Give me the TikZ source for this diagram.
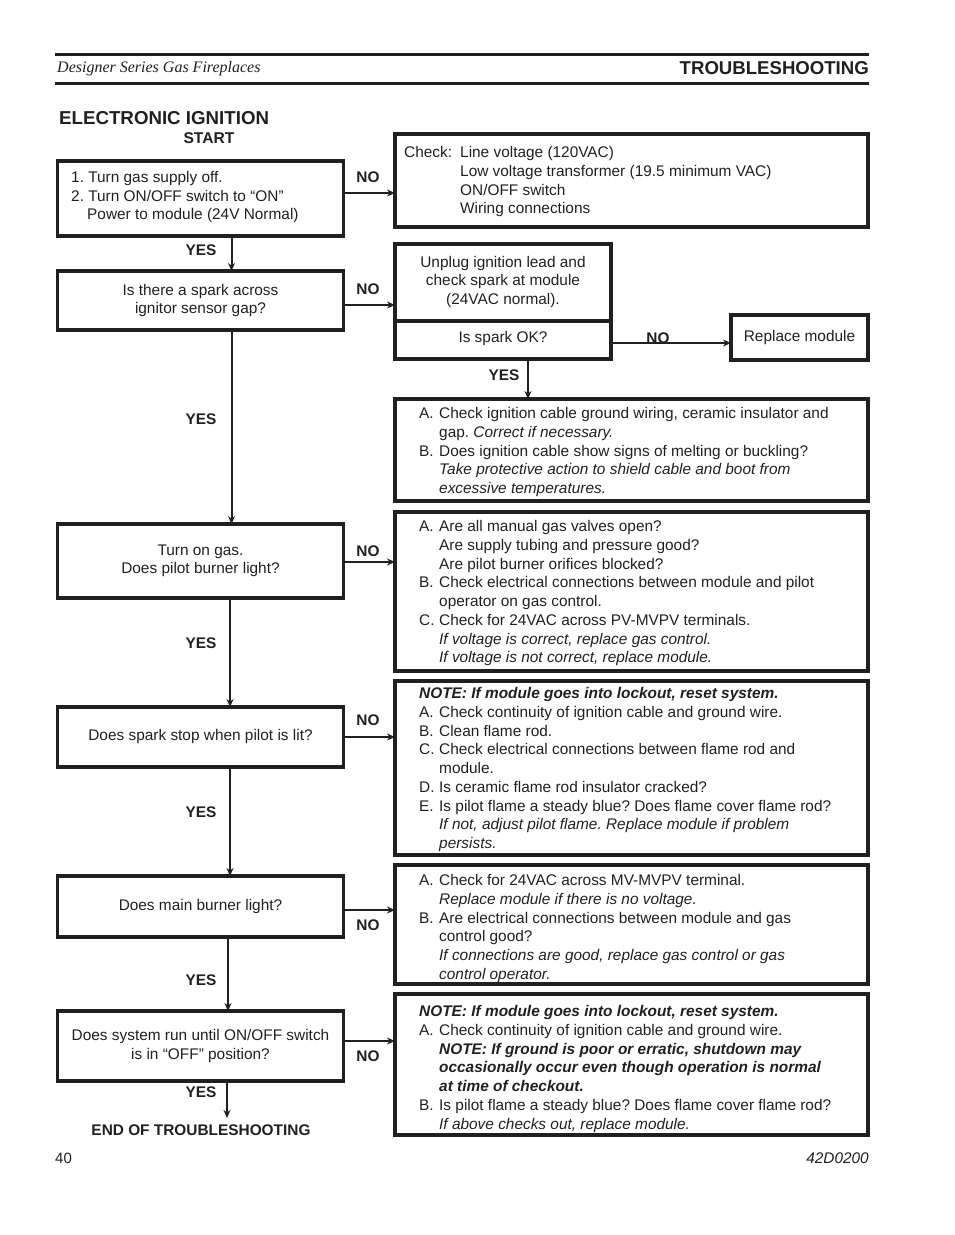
\documentclass[tikz,border=0pt]{standalone}
\usepackage{fontspec}
\setmainfont{Liberation Sans}
\newfontfamily\serifface{Liberation Serif}
\usetikzlibrary{arrows.meta,calc}
\definecolor{ink}{HTML}{231F20}
\frenchspacing
\newcommand{\tf}{\fontsize{15.4}{18.7}\selectfont}
\newcommand{\tg}{\fontsize{15.4}{18.2}\selectfont}
\newcommand{\itm}[1]{\makebox[20pt][l]{#1}}
\newcommand{\ind}{\hspace*{20pt}}
\begin{document}
\begin{tikzpicture}[x=1pt,y=-1pt,
  box/.style={draw=ink,line width=3.2pt,inner sep=0pt,outer sep=0pt,anchor=north west},
  arr/.style={draw=ink,line width=2pt,-{Stealth[length=8pt,width=7pt]}},
  txt/.style={text=ink,font=\tf,inner sep=0pt},
  ltxt/.style={txt,align=left,anchor=north west},
  ctxt/.style={txt,align=center},
  lab/.style={text=ink,font=\bfseries\fontsize{15.4}{18}\selectfont,inner sep=0pt}]
\useasboundingbox (0,0) rectangle (954,1235);
% header
\draw[ink,line width=3pt] (55,54.5) -- (869,54.5);
\draw[ink,line width=3pt] (55,83) -- (869,83);
\node[text=ink,font=\serifface\itshape\fontsize{16}{18}\selectfont,anchor=west,inner sep=0pt] (hdl) at (57,69) {Designer Series Gas Fireplaces};
\node[text=ink,font=\bfseries\fontsize{18.6}{21}\selectfont,anchor=east,inner sep=0pt] (hdr) at (869,68) {TROUBLESHOOTING};
\node[text=ink,font=\bfseries\fontsize{18.7}{21}\selectfont,anchor=west,inner sep=0pt] (title) at (59,118) {ELECTRONIC IGNITION};
\node[lab,font=\bfseries\fontsize{15.6}{18}\selectfont] (start) at (209,138) {START};
% left boxes
\node[box,minimum width=286pt,minimum height=75pt] (b1) at (57.5,161) {};
\node[box,minimum width=286pt,minimum height=59pt] (b2) at (57.5,271) {};
\node[box,minimum width=286pt,minimum height=74pt] (b3) at (57.5,524) {};
\node[box,minimum width=286pt,minimum height=60pt] (b4) at (57.5,707) {};
\node[box,minimum width=286pt,minimum height=61pt] (b5) at (57.5,876) {};
\node[box,minimum width=286pt,minimum height=70pt] (b6) at (57.5,1011) {};
\node[ltxt,font=\tg] (t1) at (71,171.5) {1. Turn gas supply off.\\2. Turn ON/OFF switch to “ON”\\\hspace*{16pt}Power to module (24V Normal)};
\node[ctxt,font=\tg] (t2) at (b2.center) {Is there a spark across\\ignitor sensor gap?};
\node[ctxt,font=\tg] (t3) at (b3.center) {Turn on gas.\\Does pilot burner light?};
\node[ctxt] (t4) at (b4.center) {Does spark stop when pilot is lit?};
\node[ctxt] (t5) at (b5.center) {Does main burner light?};
\node[ctxt,font=\tg] (t6) at (b6.center) {Does system run until ON/OFF switch\\is in “OFF” position?};
% right boxes
\node[box,minimum width=473pt,minimum height=93pt] (r1) at (395,134) {};
\node[box,minimum width=216pt,minimum height=115pt] (r2) at (395,244) {};
\node[box,minimum width=137pt,minimum height=45pt] (rm) at (731,315) {};
\node[box,minimum width=473pt,minimum height=102pt] (r3) at (395,399) {};
\node[box,minimum width=473pt,minimum height=159pt] (r4) at (395,512) {};
\node[box,minimum width=473pt,minimum height=174pt] (r5) at (395,681) {};
\node[box,minimum width=473pt,minimum height=119pt] (r6) at (395,865) {};
\node[box,minimum width=473pt,minimum height=141pt] (r7) at (395,994) {};
\draw[ink,line width=3.2pt] (r2.west |- {(0,321)}) -- (r2.east |- {(0,321)});
\node[ltxt] (s1) at (404,146.5) {\makebox[56pt][l]{Check:}Line voltage (120VAC)\\\hspace*{56pt}Low voltage transformer (19.5 minimum VAC)\\\hspace*{56pt}ON/OFF switch\\\hspace*{56pt}Wiring connections};
\node[ctxt,font=\tg] (s2) at (503,282) {Unplug ignition lead and\\check spark at module\\(24VAC normal).};
\node[ctxt] (s2b) at (503,339) {Is spark OK?};
\node[ctxt] (sm) at (rm.center) {Replace module};
\node[ltxt] (s3) at (419,407.5) {\itm{A.}Check ignition cable ground wiring, ceramic insulator and\\\ind gap. \textit{Correct if necessary.}\\\itm{B.}Does ignition cable show signs of melting or buckling?\\\ind\textit{Take protective action to shield cable and boot from}\\\ind\textit{excessive temperatures.}};
\node[ltxt] (s4) at (419,520.5) {\itm{A.}Are all manual gas valves open?\\\ind Are supply tubing and pressure good?\\\ind Are pilot burner orifices blocked?\\\itm{B.}Check electrical connections between module and pilot\\\ind operator on gas control.\\\itm{C.}Check for 24VAC across PV-MVPV terminals.\\\ind\textit{If voltage is correct, replace gas control.}\\\ind\textit{If voltage is not correct, replace module.}};
\node[ltxt] (s5) at (419,687.5) {\textbf{\textit{NOTE: If module goes into lockout, reset system.}}\\\itm{A.}Check continuity of ignition cable and ground wire.\\\itm{B.}Clean flame rod.\\\itm{C.}Check electrical connections between flame rod and\\\ind module.\\\itm{D.}Is ceramic flame rod insulator cracked?\\\itm{E.}Is pilot flame a steady blue? Does flame cover flame rod?\\\ind\textit{If not, adjust pilot flame. Replace module if problem}\\\ind\textit{persists.}};
\node[ltxt] (s6) at (419,874.5) {\itm{A.}Check for 24VAC across MV-MVPV terminal.\\\ind\textit{Replace module if there is no voltage.}\\\itm{B.}Are electrical connections between module and gas\\\ind control good?\\\ind\textit{If connections are good, replace gas control or gas}\\\ind\textit{control operator.}};
\node[ltxt] (s7) at (419,1005.5) {\textbf{\textit{NOTE: If module goes into lockout, reset system.}}\\\itm{A.}Check continuity of ignition cable and ground wire.\\\ind\textbf{\textit{NOTE: If ground is poor or erratic, shutdown may}}\\\ind\textbf{\textit{occasionally occur even though operation is normal}}\\\ind\textbf{\textit{at time of checkout.}}\\\itm{B.}Is pilot flame a steady blue? Does flame cover flame rod?\\\ind\textit{If above checks out, replace module.}};
% vertical connectors
\draw[arr] (b1.south -| {(231.5,0)}) -- (b2.north -| {(231.5,0)});
\draw[arr] (b2.south -| {(231.5,0)}) -- (b3.north -| {(231.5,0)});
\draw[arr] (b3.south -| {(230,0)}) -- (b4.north -| {(230,0)});
\draw[arr] (b4.south -| {(230,0)}) -- (b5.north -| {(230,0)});
\draw[arr] (b5.south -| {(228,0)}) -- (b6.north -| {(228,0)});
\coordinate (endtip) at (227,1118);
\draw[arr] (b6.south -| endtip) -- (endtip);
\draw[arr] (r2.south -| {(528,0)}) -- (r3.north -| {(528,0)});
% horizontal connectors
\draw[arr] (b1.east |- {(0,193)}) -- (r1.west |- {(0,193)});
\draw[arr] (b2.east |- {(0,305)}) -- (r2.west |- {(0,305)});
\draw[arr] (b3.east |- {(0,562)}) -- (r4.west |- {(0,562)});
\draw[arr] (b4.east |- {(0,737)}) -- (r5.west |- {(0,737)});
\draw[arr] (b5.east |- {(0,910)}) -- (r6.west |- {(0,910)});
\draw[arr] (b6.east |- {(0,1041)}) -- (r7.west |- {(0,1041)});
\draw[arr] (r2.east |- {(0,343)}) -- (rm.west |- {(0,343)});
% labels
\node[lab] (n1) at (368,177) {NO};
\node[lab] (n2) at (368,289) {NO};
\node[lab] (n3) at (368,551) {NO};
\node[lab] (n4) at (368,720) {NO};
\node[lab] (n5) at (368,925) {NO};
\node[lab] (n6) at (368,1056) {NO};
\node[lab] (n7) at (658,338) {NO};
\node[lab] (y1) at (201,250) {YES};
\node[lab] (y2) at (201,419) {YES};
\node[lab] (y3) at (201,643) {YES};
\node[lab] (y4) at (201,812) {YES};
\node[lab] (y5) at (201,980) {YES};
\node[lab] (y6) at (201,1092) {YES};
\node[lab] (y7) at (504,375) {YES};
\node[lab] (endt) at (201,1130) {END OF TROUBLESHOOTING};
% footer
\node[text=ink,font=\fontsize{15}{17}\selectfont,anchor=west,inner sep=0pt] (pg) at (55,1158) {40};
\node[text=ink,font=\itshape\fontsize{15.4}{17}\selectfont,anchor=east,inner sep=0pt] (doc) at (869,1158) {42D0200};
\end{tikzpicture}
\end{document}
